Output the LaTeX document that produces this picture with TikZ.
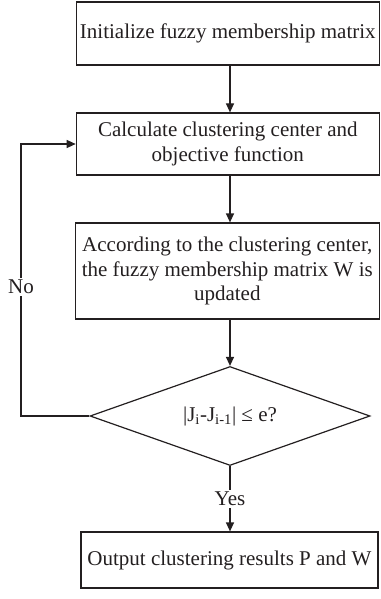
\documentclass[tikz,border=0pt]{standalone}
\usepackage{fontspec}
\setmainfont{Liberation Serif}
\usetikzlibrary{shapes.geometric,arrows.meta}
\definecolor{ink}{HTML}{231F20}
\begin{document}
\begin{tikzpicture}[x=1pt,y=-1pt,
  every node/.style={text=ink,font=\fontsize{21}{24.5}\selectfont},
  stepbox/.style={draw=ink,line width=1.2pt,rectangle,inner sep=0pt,align=center},
  decision/.style={draw=ink,line width=1.2pt,diamond,aspect=2.83,inner sep=0pt,minimum width=280pt,minimum height=99pt},
  conn/.style={draw=ink,line width=1.2pt,-{Triangle[length=9pt,width=8pt]}},
  plain/.style={draw=ink,line width=1.2pt}]
\useasboundingbox (0,0) rectangle (380,599);
\node[stepbox,minimum width=303pt,minimum height=63pt] (b1) at (227.8,33.5) {Initialize fuzzy membership matrix};
\node[stepbox,minimum width=303pt,minimum height=62pt] (b2) at (227.8,144) {Calculate clustering center and\\objective function};
\node[stepbox,minimum width=304pt,minimum height=96pt] (b3) at (227.3,271) {According to the clustering center,\\the fuzzy membership matrix W is\\updated};
\node[decision] (d) at (230,416) {|J\textsubscript{i}-J\textsubscript{i-1}| ≤ e?};
\node[stepbox,minimum width=297pt,minimum height=56pt] (b4) at (229.5,560) {Output clustering results P and W};
\draw[conn] (b1.south -| 230,0) -- (b2.north -| 230,0);
\draw[conn] (b2.south -| 230,0) -- (b3.north -| 230,0);
\draw[conn] (b3.south -| 230,0) -- (d.north);
\draw[conn] (d.south) -- node[fill=white,inner sep=2pt] (yes) {Yes} (b4.north -| d.south);
\coordinate (c1) at (21,416);
\draw[conn] (d.west) -- (c1) |- (b2.west);
\node[fill=white,inner sep=2pt] (no) at (21,287) {No};
\end{tikzpicture}
\end{document}
